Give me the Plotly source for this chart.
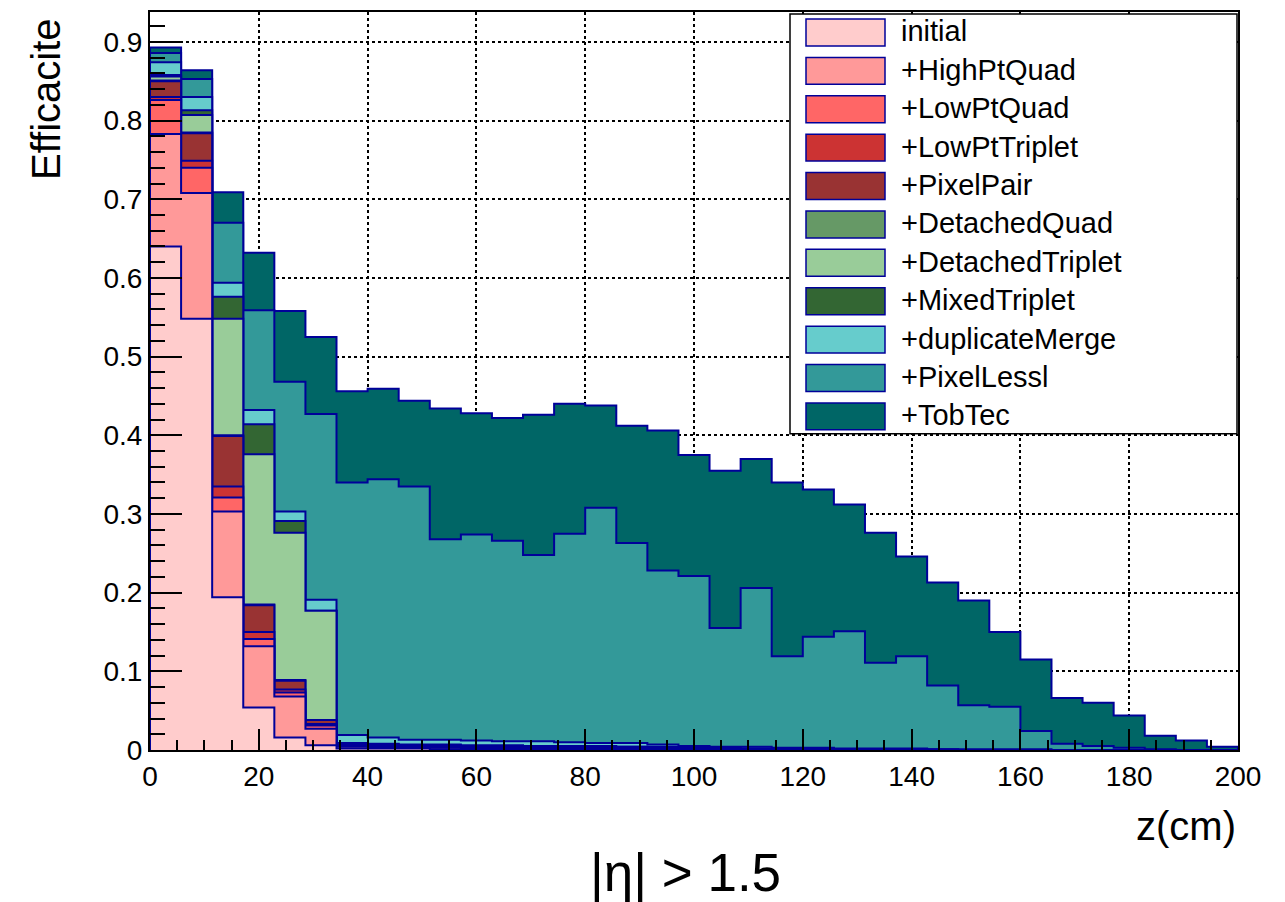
import numpy as np
import plotly.graph_objects as go

# Binning: 35 bins in z between 0 and 200 cm
n_bins = 35
z_min, z_max = 0.0, 200.0

# Cumulative tracking efficiency after each iteration, per z bin
initial = [0.640, 0.548, 0.194, 0.054, 0.016, 0.006, 0.002, 0.002, 0.002, 0.001,
           0.001, 0.001, 0.001, 0.001, 0.001, 0.001, 0.001, 0.000, 0.000, 0.000,
           0.000, 0.000, 0.000, 0.000, 0.000, 0.000, 0.000, 0.000, 0.000, 0.000,
           0.000, 0.000, 0.000, 0.000, 0.000]
high_pt_quad = [0.783, 0.708, 0.303, 0.132, 0.068, 0.027, 0.004, 0.003, 0.003, 0.003,
                0.002, 0.002, 0.002, 0.002, 0.002, 0.001, 0.001, 0.001, 0.001, 0.000,
                0.000, 0.000, 0.000, 0.000, 0.000, 0.000, 0.000, 0.000, 0.000, 0.000,
                0.000, 0.000, 0.000, 0.000, 0.000]
low_pt_quad = [0.826, 0.740, 0.321, 0.141, 0.073, 0.031, 0.005, 0.004, 0.004, 0.003,
               0.003, 0.003, 0.003, 0.002, 0.002, 0.002, 0.001, 0.001, 0.001, 0.001,
               0.000, 0.000, 0.000, 0.000, 0.000, 0.000, 0.000, 0.000, 0.000, 0.000,
               0.000, 0.000, 0.000, 0.000, 0.000]
low_pt_triplet = [0.830, 0.749, 0.335, 0.150, 0.077, 0.033, 0.006, 0.005, 0.004, 0.004,
                  0.004, 0.003, 0.003, 0.003, 0.002, 0.002, 0.002, 0.001, 0.001, 0.001,
                  0.001, 0.000, 0.000, 0.000, 0.000, 0.000, 0.000, 0.000, 0.000, 0.000,
                  0.000, 0.000, 0.000, 0.000, 0.000]
pixel_pair = [0.850, 0.784, 0.399, 0.184, 0.088, 0.038, 0.007, 0.006, 0.005, 0.005,
              0.004, 0.004, 0.004, 0.003, 0.003, 0.002, 0.002, 0.002, 0.001, 0.001,
              0.001, 0.001, 0.000, 0.000, 0.000, 0.000, 0.000, 0.000, 0.000, 0.000,
              0.000, 0.000, 0.000, 0.000, 0.000]
detached_quad = [0.851, 0.785, 0.400, 0.185, 0.089, 0.038, 0.007, 0.006, 0.006, 0.005,
                 0.005, 0.004, 0.004, 0.004, 0.003, 0.003, 0.002, 0.002, 0.002, 0.001,
                 0.001, 0.001, 0.001, 0.000, 0.000, 0.000, 0.000, 0.000, 0.000, 0.000,
                 0.000, 0.000, 0.000, 0.000, 0.000]
detached_triplet = [0.856, 0.807, 0.548, 0.376, 0.276, 0.177, 0.008, 0.007, 0.006, 0.006,
                    0.005, 0.005, 0.005, 0.004, 0.004, 0.004, 0.003, 0.003, 0.002, 0.002,
                    0.002, 0.001, 0.001, 0.001, 0.001, 0.000, 0.000, 0.000, 0.000, 0.000,
                    0.000, 0.000, 0.000, 0.000, 0.000]
mixed_triplet = [0.858, 0.813, 0.576, 0.414, 0.291, 0.177, 0.009, 0.008, 0.007, 0.007,
                 0.006, 0.006, 0.005, 0.005, 0.005, 0.004, 0.004, 0.003, 0.003, 0.002,
                 0.002, 0.002, 0.001, 0.001, 0.001, 0.001, 0.000, 0.000, 0.000, 0.000,
                 0.000, 0.000, 0.000, 0.000, 0.000]
duplicate_merge = [0.874, 0.830, 0.594, 0.432, 0.303, 0.191, 0.019, 0.016, 0.013, 0.013,
                   0.012, 0.011, 0.011, 0.010, 0.009, 0.009, 0.007, 0.005, 0.004, 0.004,
                   0.003, 0.003, 0.002, 0.002, 0.002, 0.001, 0.001, 0.001, 0.001, 0.000,
                   0.000, 0.000, 0.000, 0.000, 0.000]
pixel_less = [0.886, 0.853, 0.670, 0.559, 0.468, 0.427, 0.340, 0.344, 0.335, 0.268,
              0.274, 0.266, 0.248, 0.275, 0.308, 0.263, 0.228, 0.221, 0.155, 0.206,
              0.119, 0.144, 0.151, 0.111, 0.119, 0.082, 0.057, 0.055, 0.024, 0.008,
              0.005, 0.003, 0.001, 0.000, 0.000]
tob_tec = [0.893, 0.864, 0.709, 0.632, 0.558, 0.525, 0.456, 0.459, 0.444, 0.434,
           0.428, 0.422, 0.426, 0.440, 0.438, 0.412, 0.406, 0.375, 0.355, 0.370,
           0.340, 0.331, 0.312, 0.276, 0.246, 0.213, 0.190, 0.150, 0.115, 0.066,
           0.060, 0.044, 0.018, 0.012, 0.004]

names = ["initial", "+HighPtQuad", "+LowPtQuad", "+LowPtTriplet", "+PixelPair",
         "+DetachedQuad", "+DetachedTriplet", "+MixedTriplet", "+duplicateMerge",
         "+PixelLessl", "+TobTec"]
series = [initial, high_pt_quad, low_pt_quad, low_pt_triplet, pixel_pair,
          detached_quad, detached_triplet, mixed_triplet, duplicate_merge,
          pixel_less, tob_tec]
colors = ["#FFCCCC", "#FF9999", "#FF6666", "#CC3333", "#993333",
          "#669966", "#99CC99", "#336633", "#66CCCC", "#339999", "#006666"]
outline = "#000099"
font = "Liberation Sans, Arial, sans-serif"

edges = np.linspace(z_min, z_max, n_bins + 1)

fig = go.Figure()
# Largest (most cumulative) histogram goes in the back, "initial" on top
for name, vals, col in reversed(list(zip(names, series, colors))):
    v = np.asarray(vals, dtype=float)
    xs = np.concatenate([[edges[0]], edges, [edges[-1]]])
    ys = np.concatenate([[0.0], v, [v[-1]], [0.0]])
    fig.add_trace(go.Scatter(
        x=xs, y=ys, mode="lines", name=name,
        line=dict(color=outline, width=2, shape="hv"),
        fill="tozeroy", fillcolor=col, showlegend=False,
        hoverinfo="skip",
    ))

# Figure geometry (pixels)
W, H = 1285, 902
L, R, T, B = 150, 1238, 10, 750
y_top = 0.938


def px_x(p):
    return (p - L) / (R - L)


def px_y(p):
    return (B - p) / (B - T)


shapes = []
annotations = []

# Legend box with swatches
shapes.append(dict(type="rect", xref="paper", yref="paper", layer="above",
                   x0=px_x(790), x1=px_x(1237), y0=px_y(433), y1=px_y(12),
                   fillcolor="white", line=dict(color="black", width=1.5)))
row_h = 38.5
for i, (name, col) in enumerate(zip(names, colors)):
    top = 17 + i * row_h
    shapes.append(dict(type="rect", xref="paper", yref="paper", layer="above",
                       x0=px_x(806), x1=px_x(885), y0=px_y(top + 27), y1=px_y(top),
                       fillcolor=col, line=dict(color=outline, width=1.5)))
    annotations.append(dict(xref="paper", yref="paper", x=px_x(899), y=px_y(top + 12.5),
                            text=name, showarrow=False, xanchor="left", yanchor="middle",
                            font=dict(family=font, size=29, color="black")))

# Axis titles and caption
annotations.append(dict(xref="paper", yref="paper", x=px_x(46), y=px_y(14),
                        text="Efficacite", textangle=-90, showarrow=False,
                        xanchor="center", yanchor="top",
                        font=dict(family=font, size=40, color="black")))
annotations.append(dict(xref="paper", yref="paper", x=1.0, y=px_y(826),
                        text="z(cm)", showarrow=False, xanchor="right", yanchor="middle",
                        font=dict(family=font, size=40, color="black")))
annotations.append(dict(xref="paper", yref="paper", x=px_x(685), y=px_y(873),
                        text="|η| > 1.5", showarrow=False, xanchor="center", yanchor="middle",
                        font=dict(family=font, size=53, color="black")))

fig.update_layout(
    width=W, height=H,
    margin=dict(l=L, r=W - R, t=T, b=H - B, pad=0),
    paper_bgcolor="white", plot_bgcolor="white",
    font=dict(family=font, color="black"),
    shapes=shapes, annotations=annotations,
    showlegend=False,
    xaxis=dict(
        range=[z_min, z_max], tickmode="linear", tick0=0, dtick=20,
        ticks="inside", ticklen=21, tickwidth=2, tickcolor="black",
        minor=dict(ticks="inside", ticklen=10, dtick=5, tickwidth=2, tickcolor="black", showgrid=False),
        showline=True, linecolor="black", linewidth=2, mirror=True,
        showgrid=True, gridcolor="black", griddash="dot", gridwidth=1.5,
        zeroline=False, tickfont=dict(family=font, size=28, color="black"),
    ),
    yaxis=dict(
        range=[0, y_top], tickmode="linear", tick0=0, dtick=0.1,
        ticks="inside", ticklen=32, tickwidth=2, tickcolor="black",
        minor=dict(ticks="inside", ticklen=15, dtick=0.02, tickwidth=2, tickcolor="black", showgrid=False),
        showline=True, linecolor="black", linewidth=2, mirror=True,
        showgrid=True, gridcolor="black", griddash="dot", gridwidth=1.5,
        zeroline=False, tickfont=dict(family=font, size=28, color="black"),
    ),
)

fig.write_html("out.html")
